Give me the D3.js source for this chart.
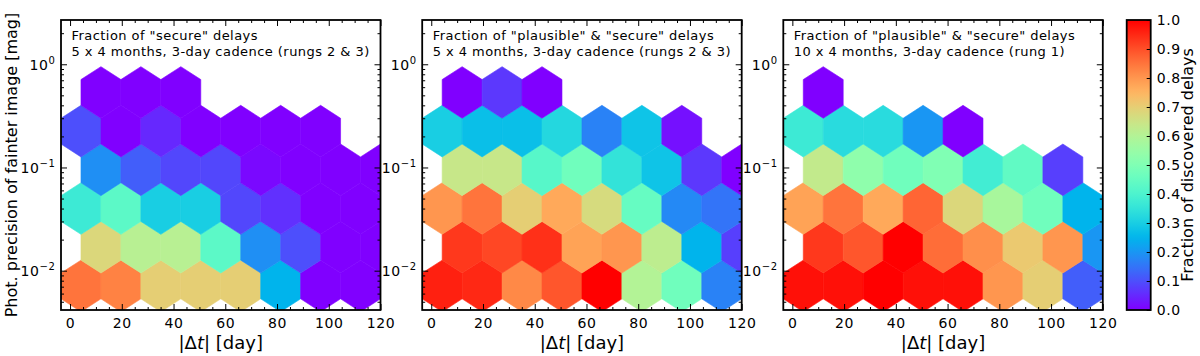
<!DOCTYPE html>
<html>
<head>
<meta charset="utf-8">
<script src="https://cdn.jsdelivr.net/npm/d3@7"></script>
<style>
body { margin: 0; background: #fff; }
svg text { font-family: "DejaVu Sans", sans-serif; fill: #000; }
</style>
</head>
<body>
<svg id="chart" width="1200" height="356"></svg>
<script>
// hexbin grid: extent covered by the bins and number of bins
const xGrid = [-3.5, 120];      // |dt| in days
const yGrid = [0.003, 3];       // photometric precision in mag (log binned)
const gridNX = 8, gridNY = 4;

// axis limits and ticks
const xDomain = [-3.5, 120];
const yDomain = [0.00416, 2.685];
const xTicks = [0, 20, 40, 60, 80, 100, 120];
const yTicks = [0.01, 0.1, 1];
const yTickExp = ["\u22122", "\u22121", "0"];
const cbTicks = [0, 0.1, 0.2, 0.3, 0.4, 0.5, 0.6, 0.7, 0.8, 0.9, 1.0];

// hex rows from the bottom up: which lattice (1 = corner, 2 = offset) and row index
const rowLattice = [2, 1, 2, 1, 2, 1];
const rowIndex   = [0, 1, 1, 2, 2, 3];

// fraction of discovered delays per hex, rows from the bottom up
const secureRungs23 = [
    [0.85, 0.83, 0.70, 0.70, 0.70, 0.25, 0.00, 0.00],
    [null, 0.68, 0.61, 0.61, 0.43, 0.19, 0.10, 0.00, 0.00],
    [0.37, 0.43, 0.30, 0.30, 0.09, 0.06, 0.00, 0.00],
    [null, 0.19, 0.12, 0.09, 0.09, 0.01, 0.00, 0.00, 0.00],
    [0.10, 0.00, 0.05, 0.00, 0.00, 0.00, 0.00, null],
    [null, 0.00, 0.00, 0.00, null, null, null, null, null]
];
const plausibleRungs23 = [
    [0.96, 0.95, 0.82, 0.89, 1.00, 0.60, 0.47, 0.17],
    [null, 0.93, 0.91, 0.94, 0.78, 0.80, 0.62, 0.25, 0.08],
    [0.80, 0.85, 0.70, 0.77, 0.67, 0.45, 0.18, 0.15],
    [null, 0.64, 0.64, 0.42, 0.47, 0.35, 0.28, 0.07, 0.00],
    [0.30, 0.27, 0.27, 0.32, 0.17, 0.28, 0.02, null],
    [null, 0.00, 0.07, 0.00, null, null, null, null, null]
];
const plausibleRung1 = [
    [0.98, 0.98, 1.00, 0.98, 0.98, 0.80, 0.70, 0.12],
    [null, 0.93, 0.89, 1.00, 0.86, 0.81, 0.71, 0.80, 0.20],
    [0.78, 0.85, 0.77, 0.87, 0.68, 0.58, 0.47, 0.25],
    [null, 0.63, 0.53, 0.47, 0.50, 0.38, 0.44, 0.08, null],
    [0.37, 0.33, 0.33, 0.20, 0.00, null, null, null],
    [null, 0.00, null, null, null, null, null, null, null]
];

const titles = [
    ['Fraction of "secure" delays', '5 x 4 months, 3-day cadence (rungs 2 & 3)'],
    ['Fraction of "plausible" & "secure" delays', '5 x 4 months, 3-day cadence (rungs 2 & 3)'],
    ['Fraction of "plausible" & "secure" delays', '10 x 4 months, 3-day cadence (rung 1)']
];
const panelData = [secureRungs23, plausibleRungs23, plausibleRung1];

// layout
const marginTop = 20, panelW = 319.5, panelH = 290;
const panelLeft = [61, 422.2, 783.3];
const cb = {x: 1126.7, w: 24};

const svg = d3.select("#chart");

const x = d3.scaleLinear().domain(xDomain).range([0, panelW]);
const y = d3.scaleLog().domain(yDomain).range([panelH, 0]);

// matplotlib "rainbow"
const rainbow = v => d3.rgb(
    255 * Math.min(1, Math.abs(2 * v - 0.5)),
    255 * Math.sin(Math.PI * v),
    255 * Math.cos(Math.PI * v / 2)).formatHex();

const sx = (xGrid[1] - xGrid[0]) / gridNX;
const ly0 = Math.log10(yGrid[0]);
const sy = (Math.log10(yGrid[1]) - ly0) / gridNY;
const hexShape = [[.5, -.5], [.5, .5], [0, 1], [-.5, .5], [-.5, -.5], [0, -1]];

function hexPath(d) {
    return "M" + hexShape.map(([a, b]) =>
        x(d.cx + a * sx) + "," + y(Math.pow(10, d.cly + b * sy / 3))).join("L") + "Z";
}

function binsFor(rows) {
    const bins = [];
    rows.forEach((vals, r) => {
        const off = rowLattice[r] === 2 ? 0.5 : 0;
        vals.forEach((v, i) => {
            if (v === null) return;
            bins.push({
                cx: xGrid[0] + (i + off) * sx,
                cly: ly0 + (rowIndex[r] + off) * sy,
                value: v
            });
        });
    });
    return bins;
}

// minor ticks
const xMinor = d3.range(0, 121, 5).filter(v => v % 20 !== 0);
const yMinor = [];
for (let k = -3; k <= 0; k++) {
    for (let m = 2; m <= 9; m++) {
        const v = m * Math.pow(10, k);
        if (v > yDomain[0] && v < yDomain[1]) yMinor.push(v);
    }
}

function tickAxis(g, axis, vals, size) {
    g.call(axis.tickValues(vals).tickSize(-size).tickFormat(""));
    g.select(".domain").remove();
    g.selectAll("line").attr("stroke", "#000").attr("stroke-width", 1);
}

panelData.forEach((rows, p) => {
    const g = svg.append("g").attr("transform", `translate(${panelLeft[p]},${marginTop})`);

    g.append("clipPath").attr("id", "clip" + p)
        .append("rect").attr("width", panelW).attr("height", panelH);

    g.append("g").attr("clip-path", `url(#clip${p})`)
        .selectAll("path")
        .data(binsFor(rows))
        .enter().append("path")
        .attr("d", hexPath)
        .attr("fill", d => rainbow(d.value))
        .attr("stroke", d => rainbow(d.value))
        .attr("stroke-width", 0.6);

    // ticks on all four sides, pointing inward
    const xb = g.append("g").attr("transform", `translate(0,${panelH})`);
    xb.call(d3.axisBottom(x).tickValues(xTicks).tickSize(-6).tickPadding(8));
    xb.select(".domain").remove();
    xb.selectAll("text").attr("font-size", 14).attr("font-family", "DejaVu Sans")
        .attr("letter-spacing", 0.6);
    xb.selectAll("line").attr("stroke-width", 1);
    tickAxis(g.append("g").attr("transform", `translate(0,${panelH})`), d3.axisBottom(x), xMinor, 3);
    tickAxis(g.append("g"), d3.axisTop(x), xTicks, 6);
    tickAxis(g.append("g"), d3.axisTop(x), xMinor, 3);
    tickAxis(g.append("g"), d3.axisLeft(y), yTicks, 6);
    tickAxis(g.append("g"), d3.axisLeft(y), yMinor, 3);
    tickAxis(g.append("g").attr("transform", `translate(${panelW},0)`), d3.axisRight(y), yTicks, 6);
    tickAxis(g.append("g").attr("transform", `translate(${panelW},0)`), d3.axisRight(y), yMinor, 3);

    // 10^k labels
    const yl = g.append("g").selectAll("text")
        .data(yTicks)
        .enter().append("text")
        .attr("x", -5.5)
        .attr("y", d => y(d) + 5.5)
        .attr("text-anchor", "end")
        .attr("font-size", 14)
        .attr("letter-spacing", 0.6);
    yl.append("tspan").text("10");
    yl.append("tspan").attr("font-size", 10).attr("dy", -6)
        .text((d, i) => yTickExp[i]);

    g.append("rect")
        .attr("width", panelW).attr("height", panelH)
        .attr("fill", "none").attr("stroke", "#000").attr("stroke-width", 1.8);

    const t = g.append("text").attr("font-size", 13).attr("letter-spacing", 0.45);
    t.append("tspan").attr("x", 10.5).attr("y", 20).text(titles[p][0]);
    t.append("tspan").attr("x", 10.5).attr("y", 36).text(titles[p][1]);

    const xl = g.append("text")
        .attr("x", panelW / 2).attr("y", 349 - marginTop)
        .attr("text-anchor", "middle").attr("font-size", 18);
    xl.append("tspan").text("|\u0394");
    xl.append("tspan").attr("font-style", "italic").text("t");
    xl.append("tspan").text("| [day]");
});

svg.append("text")
    .attr("transform", `translate(16.5,${marginTop + panelH / 2}) rotate(-90)`)
    .attr("text-anchor", "middle").attr("font-size", 16)
    .text("Phot. precision of fainter image [mag]");

// colorbar
const cbScale = d3.scaleLinear().domain([0, 1]).range([panelH, 0]);
const grad = svg.append("defs").append("linearGradient")
    .attr("id", "cbgrad").attr("x1", 0).attr("y1", 1).attr("x2", 0).attr("y2", 0);
grad.selectAll("stop")
    .data(d3.range(0, 1.0001, 0.02))
    .enter().append("stop")
    .attr("offset", d => d)
    .attr("stop-color", d => rainbow(d));

const cbg = svg.append("g").attr("transform", `translate(${cb.x},${marginTop})`);
cbg.append("rect").attr("width", cb.w).attr("height", panelH).attr("fill", "url(#cbgrad)");
const cba = cbg.append("g").attr("transform", `translate(${cb.w},0)`);
cba.call(d3.axisRight(cbScale).tickValues(cbTicks).tickSize(-4).tickPadding(6).tickFormat(d3.format(".1f")));
cba.select(".domain").remove();
cba.selectAll("text").attr("font-size", 14).attr("font-family", "DejaVu Sans")
    .attr("letter-spacing", 0.6);
cbg.append("rect").attr("width", cb.w).attr("height", panelH)
    .attr("fill", "none").attr("stroke", "#000").attr("stroke-width", 1.8);

svg.append("text")
    .attr("transform", `translate(1192.5,${marginTop + panelH / 2}) rotate(-90)`)
    .attr("text-anchor", "middle").attr("font-size", 16)
    .text("Fraction of discovered delays");
</script>
</body>
</html>
